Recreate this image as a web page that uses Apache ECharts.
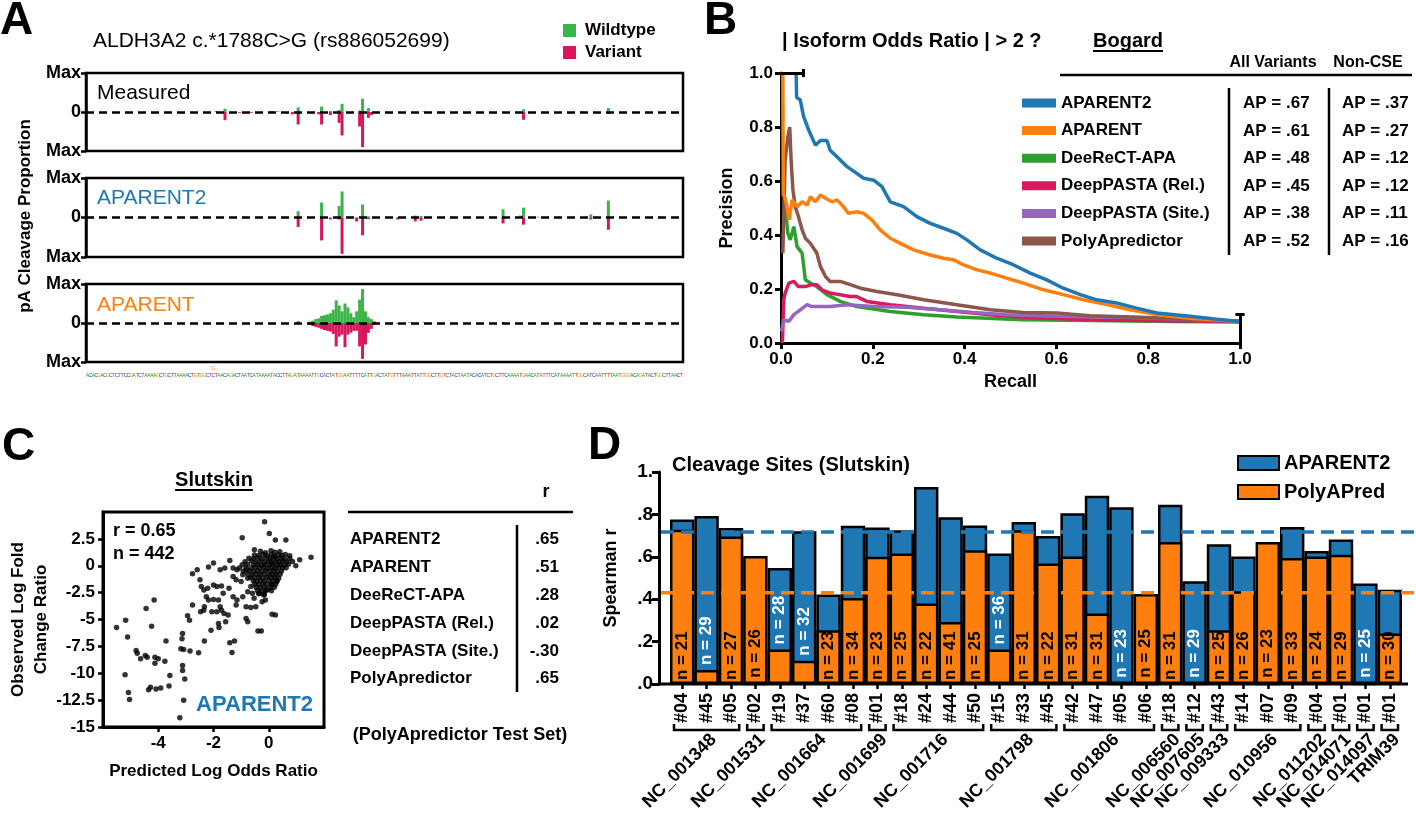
<!DOCTYPE html>
<html><head><meta charset="utf-8">
<script src="https://cdn.jsdelivr.net/npm/echarts@6/dist/echarts.min.js"></script>
<style>html,body{margin:0;padding:0;background:#fff;}#chart{width:1416px;height:813px;}</style>
</head><body><div id="chart"></div>
<script>
const FF = '"Liberation Sans", Arial, Helvetica, sans-serif';

// ---------------- Panel A data ----------------
const sequence = "ACACGACGCTCTTCCGATCTAAAAGCTGCTTAAAACTGTGGCTCTAACAGACTAATCATAAAATACCTTAGATAAAATTGCACTATGGAATTTTCATTGACTATGTTTAAATTATTGGCTTGTCTACTAATACACATCTGCTTCAAAATGAACATATTTCATAAAATTGGCATCAATTTTAATGGGACAGATACTGGCTTAACT";
const variantIndex = 43;
const variantAllele = 'G';
const aTrackNames = ['Measured', 'APARENT2', 'APARENT'];
const measuredWildtype = [[44,0.03],[47,0.085],[63,0.03],[65,0.02],[72,0.12],[80,0.14],[83,0.03],[86,0.05],[87,0.21],[93,0.04],[94,0.34],[96,0.1],[115,0.02],[149,0.07],[169,0.02],[178,0.1]];
const measuredVariant = [[47,0.21],[52,0.02],[56,0.02],[68,0.03],[70,0.06],[72,0.32],[79,0.06],[80,0.32],[83,0.08],[86,0.28],[87,0.6],[93,0.37],[94,0.9],[96,0.15],[97,0.08],[149,0.2],[166,0.02],[178,0.05]];
const aparent2Wildtype = [[72,0.16],[80,0.38],[86,0.29],[87,0.66],[94,0.33],[96,0.03],[112,0.05],[114,0.04],[142,0.21],[148,0.05],[149,0.25],[154,0.02],[161,0.02],[172,0.08],[178,0.43]];
const aparent2Variant = [[68,0.02],[72,0.24],[80,0.58],[83,0.05],[86,0.05],[87,0.92],[92,0.1],[94,0.45],[96,0.04],[106,0.05],[112,0.1],[114,0.08],[142,0.15],[149,0.18],[172,0.05],[178,0.31]];
const aparentWildtype = [[72,0.05],[76,0.04],[77,0.06],[78,0.1],[79,0.12],[80,0.18],[81,0.2],[82,0.22],[83,0.25],[84,0.34],[85,0.58],[86,0.45],[87,0.3],[88,0.5],[89,0.4],[90,0.25],[91,0.15],[92,0.3],[93,0.6],[94,0.87],[95,0.3],[96,0.15],[97,0.1],[98,0.05],[104,0.02],[110,0.02],[115,0.02],[142,0.03]];
const aparentVariant = [[72,0.03],[76,0.05],[77,0.08],[78,0.1],[79,0.12],[80,0.15],[81,0.18],[82,0.2],[83,0.22],[84,0.28],[85,0.6],[86,0.35],[87,0.3],[88,0.62],[89,0.3],[90,0.25],[91,0.2],[92,0.2],[93,0.6],[94,0.92],[95,0.55],[96,0.25],[97,0.15],[98,0.05],[106,0.02],[112,0.03]];

// ---------------- Panel B data ----------------
const prModels = ['APARENT2','APARENT','DeeReCT-APA','DeepPASTA (Rel.)','DeepPASTA (Site.)','PolyApredictor'];
const prAparent2 = [[0.033,1.0],[0.034,0.91],[0.042,0.90],[0.049,0.84],[0.06,0.79],[0.075,0.733],[0.086,0.75],[0.1,0.75],[0.107,0.714],[0.122,0.69],[0.144,0.653],[0.165,0.628],[0.18,0.61],[0.202,0.603],[0.22,0.579],[0.238,0.523],[0.267,0.505],[0.296,0.468],[0.325,0.443],[0.354,0.425],[0.383,0.406],[0.405,0.382],[0.434,0.345],[0.47,0.314],[0.507,0.289],[0.543,0.259],[0.579,0.234],[0.615,0.203],[0.652,0.179],[0.688,0.16],[0.731,0.148],[0.775,0.129],[0.819,0.111],[0.891,0.099],[0.95,0.088],[1.0,0.08]];
const prAparent = [[0.004,1.0],[0.005,0.55],[0.008,0.542],[0.013,0.505],[0.018,0.456],[0.024,0.53],[0.035,0.505],[0.046,0.523],[0.057,0.511],[0.064,0.542],[0.075,0.523],[0.086,0.548],[0.097,0.536],[0.111,0.523],[0.122,0.53],[0.136,0.505],[0.147,0.48],[0.165,0.486],[0.18,0.48],[0.198,0.456],[0.216,0.419],[0.238,0.388],[0.26,0.369],[0.289,0.345],[0.325,0.326],[0.354,0.314],[0.376,0.308],[0.398,0.289],[0.427,0.271],[0.456,0.259],[0.492,0.24],[0.528,0.222],[0.572,0.197],[0.615,0.179],[0.659,0.16],[0.71,0.142],[0.76,0.123],[0.819,0.105],[0.891,0.092],[1.0,0.08]];
const prDeeReCT = [[0.006,0.456],[0.009,0.505],[0.015,0.406],[0.02,0.382],[0.028,0.431],[0.035,0.357],[0.046,0.333],[0.053,0.234],[0.064,0.222],[0.078,0.209],[0.1,0.179],[0.129,0.154],[0.165,0.135],[0.238,0.117],[0.311,0.105],[0.383,0.096],[0.528,0.086],[0.673,0.083],[0.85,0.08],[1.0,0.078]];
const prDeepPastaRel = [[0.003,0.0],[0.006,0.16],[0.009,0.185],[0.017,0.222],[0.028,0.228],[0.038,0.209],[0.053,0.209],[0.067,0.216],[0.078,0.216],[0.089,0.197],[0.107,0.185],[0.129,0.179],[0.151,0.172],[0.165,0.172],[0.187,0.154],[0.238,0.142],[0.311,0.129],[0.383,0.117],[0.456,0.105],[0.528,0.095],[0.673,0.086],[0.85,0.082],[1.0,0.08]];
const prDeepPastaSite = [[0.001,0.043],[0.006,0.086],[0.017,0.08],[0.028,0.105],[0.042,0.123],[0.057,0.142],[0.067,0.135],[0.078,0.135],[0.107,0.135],[0.144,0.142],[0.202,0.135],[0.274,0.132],[0.347,0.123],[0.419,0.113],[0.492,0.105],[0.601,0.099],[0.746,0.095],[0.88,0.088],[1.0,0.08]];
const prPolyApredictor = [[0.004,0.333],[0.009,0.677],[0.015,0.764],[0.019,0.80],[0.022,0.677],[0.026,0.567],[0.031,0.505],[0.038,0.468],[0.046,0.419],[0.053,0.388],[0.064,0.369],[0.071,0.351],[0.078,0.333],[0.086,0.283],[0.097,0.246],[0.107,0.228],[0.129,0.228],[0.151,0.216],[0.173,0.203],[0.209,0.191],[0.253,0.179],[0.311,0.16],[0.383,0.142],[0.456,0.123],[0.528,0.113],[0.601,0.111],[0.673,0.101],[0.782,0.095],[0.9,0.088],[1.0,0.08]];
const prCaps = [[[0,1],[0.049,1]],[[0.049,0.985],[0.049,1.015]],[[1,0],[1,0.106]],[[0.99,0.106],[1.01,0.106]]];
const apAllVariants = ['.67','.61','.48','.45','.38','.52'];
const apNonCSE = ['.37','.27','.12','.12','.11','.16'];

// ---------------- Panel C data ----------------
const slutskinR = '0.65';
const slutskinN = 442;
const slutskinOutliers = [[-0.15,4.1],[-0.96,2.6],[0.02,3.0],[0.24,2.4],[0.62,2.4],[1.53,0.8],[1.12,0.56],[0.98,0.0],[0.76,0.94],[-0.52,1.5],[-1.41,0.5],[-2.18,-0.12],[-2.0,0.25],[-2.59,-0.38],[-2.76,-0.75],[-2.49,-1.31],[-2.76,-3.66],[-2.94,-4.66],[-2.87,-5.06],[-3.12,-6.31],[-3.14,-6.78],[-3.18,-7.72],[-3.08,-7.78],[-2.85,-7.94],[-3.12,-9.28],[-3.12,-9.75],[-3.04,-10.53],[-3.08,-12.5],[-3.22,-14.13],[-5.51,-5.75],[-5.18,-5.06],[-5.11,-6.63],[-5.2,-10.13],[-5.08,-11.78],[-5.04,-12.44],[-4.8,-7.88],[-4.76,-8.13],[-4.64,-8.66],[-4.47,-8.34],[-4.4,-8.5],[-4.44,-3.97],[-4.15,-3.19],[-4.24,-5.63],[-4.12,-8.5],[-4.12,-9.06],[-4.0,-8.66],[-3.76,-8.88],[-3.72,-7.0],[-3.58,-10.22],[-3.61,-11.19],[-4.35,-11.53],[-4.28,-11.31],[-4.08,-11.47],[-3.91,-11.38],[-2.33,-7.0],[-2.54,-8.09],[-2.09,-6.0],[-1.8,-5.75],[-1.82,-5.38],[-1.56,-5.22],[-1.41,-7.16],[-1.33,-8.06],[-1.24,-7.0],[-0.76,-5.22],[-0.82,-4.91],[-0.39,-6.06],[-0.27,-6.06],[0.12,-4.5],[0.24,-4.59],[-2.35,-4.13],[-2.47,-4.28],[-2.33,-3.81],[-2.06,-4.28],[-1.88,-4.28],[-1.71,-4.13],[-1.62,-4.44],[-1.47,-4.59],[-1.76,-3.81],[-2.26,-2.88],[-2.18,-3.19],[-2.0,-3.13],[-1.82,-3.19],[-2.44,-1.94],[-2.35,-2.25],[-2.21,-2.09],[-2.0,-1.78],[-1.88,-1.94],[-1.71,-1.88],[-1.44,-2.09],[-1.65,-2.56],[-1.29,-2.88],[-1.18,-3.66],[-1.15,-3.19],[-0.94,-2.88],[-0.82,-3.81],[-0.65,-3.88],[-0.47,-3.81],[-0.24,-3.34],[-0.12,-3.19],[-0.53,-3.03],[-0.76,-2.41],[-0.65,-1.94],[-0.59,-2.56],[-0.35,-2.56],[-0.18,-2.72],[-0.06,-2.25],[0.12,-1.78],[0.29,-1.47],[-1.59,-0.22],[-1.76,-0.38],[-1.29,-0.22],[-1.15,-0.38],[-1.29,-1.0],[-1.18,-1.31],[-1.0,-1.47],[-0.94,-0.84],[-0.82,-0.38],[-0.76,-1.16]];
const slutskinCluster = [[-0.3,1.35],[-0.12,1.2],[0.08,1.4],[0.22,1.25],[0.4,1.3],[-0.52,1.0],[-0.36,0.95],[-0.2,1.05],[-0.04,0.92],[0.1,1.02],[0.21,0.88],[0.34,1.0],[0.48,0.95],[0.6,1.05],[-0.72,0.7],[-0.56,0.66],[-0.41,0.75],[-0.26,0.62],[-0.09,0.72],[0.04,0.6],[0.16,0.74],[0.29,0.65],[0.44,0.7],[0.58,0.6],[0.76,0.68],[-0.86,0.38],[-0.62,0.44],[-0.47,0.33],[-0.31,0.42],[-0.16,0.35],[0.0,0.45],[0.12,0.3],[0.26,0.4],[0.37,0.34],[0.51,0.44],[0.66,0.36],[0.86,0.4],[-0.96,0.1],[-0.77,0.14],[-0.56,0.06],[-0.41,0.15],[-0.27,0.05],[-0.12,0.12],[0.03,0.08],[0.15,0.16],[0.28,0.04],[0.43,0.12],[0.56,0.07],[0.71,0.14],[-1.06,-0.2],[-0.82,-0.16],[-0.63,-0.24],[-0.49,-0.14],[-0.34,-0.22],[-0.19,-0.12],[-0.05,-0.26],[0.09,-0.17],[0.23,-0.23],[0.36,-0.13],[0.5,-0.21],[0.63,-0.18],[-0.92,-0.5],[-0.71,-0.46],[-0.56,-0.55],[-0.41,-0.47],[-0.26,-0.53],[-0.11,-0.44],[0.05,-0.52],[0.18,-0.46],[0.31,-0.56],[0.46,-0.48],[-0.76,-0.8],[-0.61,-0.86],[-0.46,-0.77],[-0.31,-0.84],[-0.16,-0.76],[0.0,-0.85],[0.12,-0.78],[0.26,-0.83],[0.41,-0.79],[-0.66,-1.1],[-0.51,-1.15],[-0.36,-1.06],[-0.21,-1.14],[-0.06,-1.08],[0.1,-1.12],[0.22,-1.05],[0.36,-1.16],[-0.56,-1.4],[-0.43,-1.45],[-0.31,-1.37],[-0.16,-1.44],[0.0,-1.38],[0.15,-1.43],[0.3,-1.4],[-0.51,-1.7],[-0.36,-1.75],[-0.21,-1.68],[-0.06,-1.74],[0.1,-1.69],[0.25,-1.72],[-0.46,-2.0],[-0.31,-2.05],[-0.16,-1.98],[0.05,-2.04],[0.2,-1.99],[-0.41,-2.3],[-0.26,-2.35],[-0.11,-2.28],[0.1,-2.32],[-0.36,-2.6],[-0.16,-2.65]];
const cModels = ['APARENT2','APARENT','DeeReCT-APA','DeepPASTA (Rel.)','DeepPASTA (Site.)','PolyApredictor'];
const cR = ['.65','.51','.28','.02','-.30','.65'];

// ---------------- Panel D data ----------------
const dSites = ['#04','#45','#05','#02','#19','#37','#60','#08','#01','#18','#24','#44','#50','#15','#33','#45','#42','#47','#05','#06','#18','#12','#43','#14','#07','#09','#04','#01','#01','#01'];
const dAparent2 = [0.776,0.792,0.736,0,0.547,0.72,0.422,0.747,0.738,0.725,0.929,0.787,0.748,0.615,0.764,0.698,0.806,0.888,0.834,0,0.845,0.485,0.659,0.602,0,0.74,0.627,0.682,0.474,0.445];
const dPolyAPred = [0.728,0.066,0.696,0.604,0.163,0.11,0.254,0.406,0.6,0.615,0.38,0.293,0.631,0.163,0.725,0.568,0.602,0.333,0,0.425,0.67,0,0.254,0.438,0.67,0.594,0.602,0.61,0,0.238];
const dN = [21,29,27,26,28,32,23,34,23,25,22,41,25,36,31,22,31,31,23,25,31,29,25,26,23,33,24,29,25,30];
const dGroups = [['NC_001348',0,2],['NC_001531',3,3],['NC_001664',4,7],['NC_001699',8,8],['NC_001716',9,12],['NC_001798',13,15],['NC_001806',16,19],['NC_006560',20,20],['NC_007605',21,21],['NC_009333',22,22],['NC_010956',23,25],['NC_011202',26,26],['NC_014071',27,27],['NC_014097',28,28],['TRIM39',29,29]];
const dMeanAparent2 = 0.717;
const dMeanPolyAPred = 0.431;

// ---------------- styles ----------------
const WT_COLOR = '#3bb54a', VAR_COLOR = '#d6175c';
const BLUE = '#1f77b4', ORANGE = '#ff7f0e';
const prColors = ['#1f77b4','#ff7f0e','#2ca02c','#d81b60','#9467bd','#8c564b'];
const D_AXIS_OFFSET = 11;

const mctx = document.createElement('canvas').getContext('2d');
function textW(t, font){ mctx.font = font; return mctx.measureText(t).width; }
function fnt(size, weight){ return (weight||'bold') + ' ' + size + 'px ' + FF; }
function T(x, y, text, o){ o = o||{}; return {type:'text', x:x, y:y, rotation:o.rot||0, silent:true, z:50,
  style:{text:text, fill:o.color||'#000', font:fnt(o.size||17, o.weight), align:o.align||'left', verticalAlign:o.va||'middle'}}; }
function L(x1,y1,x2,y2,w){ return {type:'line', silent:true, z:50, shape:{x1:x1,y1:y1,x2:x2,y2:y2}, style:{stroke:'#000', lineWidth:w||2.5}}; }
function R(x,y,w,h,c){ return {type:'rect', silent:true, z:50, shape:{x:x,y:y,width:w,height:h}, style:{fill:c}}; }

const seqIdx = sequence.split('').map((c,i)=>String(i));
const axisTxt = {fontFamily:FF, fontWeight:'bold', color:'#000'};

// ---------------- grids ----------------
const grids = [
  {left:86, top:73, width:597, height:78, show:true, borderColor:'#000', borderWidth:2.5},
  {left:86, top:178, width:597, height:79, show:true, borderColor:'#000', borderWidth:2.5},
  {left:86, top:284, width:597, height:78, show:true, borderColor:'#000', borderWidth:2.5},
  {left:781, top:73, width:459, height:270},
  {left:103, top:512, width:221, height:215, show:true, borderColor:'#000', borderWidth:3},
  {left:670, top:472, width:732, height:212}
];

const hiddenCat = g => ({gridIndex:g, type:'category', data:seqIdx, boundaryGap:true, axisLine:{show:false}, axisTick:{show:false}, axisLabel:{show:false}});
const xAxes = [
  hiddenCat(0), hiddenCat(1),
  {gridIndex:2, type:'category', data:seqIdx, boundaryGap:true, axisLine:{show:false}, axisTick:{show:false},
   axisLabel:{interval:0, margin:11, fontSize:5, fontFamily:FF, formatter:v=>{const c=sequence[+v]; return '{'+c+'|'+c+'}';},
     rich:{A:{color:'#2ca02c',fontSize:5,fontFamily:FF}, C:{color:'#2040d0',fontSize:5,fontFamily:FF}, G:{color:'#f0a000',fontSize:5,fontFamily:FF}, T:{color:'#e02020',fontSize:5,fontFamily:FF}}}},
  {gridIndex:2, type:'category', data:seqIdx, boundaryGap:true, position:'bottom', axisLine:{show:false}, axisTick:{show:false},
   axisLabel:{interval:0, margin:3, fontSize:6, fontFamily:FF, color:'#f0a000', formatter:v=> (+v===variantIndex ? variantAllele : '')}},
  {gridIndex:3, type:'value', min:0, max:1, interval:0.2, name:'Recall', nameLocation:'middle', nameGap:30,
   nameTextStyle:Object.assign({fontSize:18}, axisTxt),
   axisLine:{show:true, onZero:false, lineStyle:{color:'#000', width:3}}, axisTick:{show:true, length:6, lineStyle:{color:'#000', width:3}},
   axisLabel:Object.assign({fontSize:17, margin:8, formatter:v=>v.toFixed(1)}, axisTxt), splitLine:{show:false}},
  {gridIndex:4, type:'value', min:-6, max:2, interval:2,
   name:'Predicted Log Odds Ratio', nameLocation:'middle', nameGap:36, nameTextStyle:Object.assign({fontSize:17}, axisTxt),
   axisLine:{show:true, onZero:false, lineStyle:{color:'#000', width:3}}, axisTick:{show:true, length:5, lineStyle:{color:'#000', width:2.5}},
   axisLabel:Object.assign({fontSize:17, margin:8, showMinLabel:false, showMaxLabel:false}, axisTxt), splitLine:{show:false}},
  {gridIndex:5, type:'category', data:dSites.map((s,i)=>String(i)), boundaryGap:true, axisLine:{show:false},
   axisTick:{show:true, alignWithLabel:true, length:5, lineStyle:{color:'#000', width:2.5}},
   axisLabel:Object.assign({interval:0, rotate:90, margin:9, fontSize:18, formatter:(v)=>dSites[+v]}, axisTxt)}
];

const aY = g => ({gridIndex:g, type:'value', min:-1, max:1, interval:1,
  axisLine:{show:true, onZero:false, lineStyle:{color:'#000', width:2.5}}, axisTick:{show:true, length:5, lineStyle:{color:'#000', width:2.5}},
  splitLine:{show:false}, axisLabel:Object.assign({fontSize:18, margin:5, formatter:v=> v===0 ? '0' : 'Max'}, axisTxt)});
const yAxes = [aY(0), aY(1), aY(2),
  {gridIndex:3, type:'value', min:0, max:1, interval:0.2, name:'Precision', nameLocation:'middle', nameGap:45,
   nameTextStyle:Object.assign({fontSize:18}, axisTxt),
   axisLine:{show:true, onZero:false, lineStyle:{color:'#000', width:3}}, axisTick:{show:true, length:6, lineStyle:{color:'#000', width:3}},
   axisLabel:Object.assign({fontSize:17, margin:8, formatter:v=>v.toFixed(1)}, axisTxt), splitLine:{show:false}},
  {gridIndex:4, type:'value', min:-15, max:5, interval:2.5, name:'Observed Log Fold\nChange Ratio', nameLocation:'middle', nameGap:36,
   nameTextStyle:Object.assign({fontSize:17, lineHeight:23}, axisTxt),
   axisLine:{show:true, onZero:false, lineStyle:{color:'#000', width:3}}, axisTick:{show:true, length:5, lineStyle:{color:'#000', width:2.5}},
   axisLabel:Object.assign({fontSize:17, margin:8, showMaxLabel:false, formatter:v=>String(v)}, axisTxt), splitLine:{show:false}},
  {gridIndex:5, type:'value', min:0, max:1, interval:0.2, offset:D_AXIS_OFFSET, name:'Spearman r', nameLocation:'middle', nameGap:39,
   nameTextStyle:Object.assign({fontSize:18}, axisTxt),
   axisLine:{show:true, onZero:false, lineStyle:{color:'#000', width:3}}, axisTick:{show:true, length:7, lineStyle:{color:'#000', width:3}},
   axisLabel:Object.assign({fontSize:19, margin:6, formatter:v=> v>=1 ? '1.' : '.'+Math.round(v*10)}, axisTxt), splitLine:{show:false}}
];

// ---------------- series ----------------
const series = [];
const aTracks = [[measuredWildtype, measuredVariant],[aparent2Wildtype, aparent2Variant],[aparentWildtype, aparentVariant]];
aTracks.forEach((tr, g) => {
  series.push({type:'bar', name:'Wildtype', xAxisIndex:g, yAxisIndex:g, data:tr[0], barWidth:3, barGap:'-100%', itemStyle:{color:WT_COLOR}, silent:true});
  series.push({type:'bar', name:'Variant', xAxisIndex:g, yAxisIndex:g, data:tr[1].map(p=>[p[0], -p[1]]), barWidth:3, barGap:'-100%', itemStyle:{color:VAR_COLOR}, silent:true});
  series.push({type:'line', xAxisIndex:g, yAxisIndex:g, data:[], z:6, silent:true,
    markLine:{silent:true, symbol:'none', label:{show:false}, animation:false, lineStyle:{color:'#000', type:[8,5], width:2.5}, data:[{yAxis:0}]}});
});

const prData = [prAparent2, prAparent, prDeeReCT, prDeepPastaRel, prDeepPastaSite, prPolyApredictor];
const drawOrder = [2,3,4,5,1,0];
drawOrder.forEach((k, j) => {
  series.push({type:'line', name:prModels[k], xAxisIndex:4, yAxisIndex:3, data:prData[k], showSymbol:false, symbol:'none',
    lineStyle:{color:prColors[k], width:3.5}, itemStyle:{color:prColors[k]}, z:3+j, silent:true});
});
series.push({type:'lines', coordinateSystem:'cartesian2d', xAxisIndex:4, yAxisIndex:3, clip:false, silent:true, z:12,
  lineStyle:{color:'#000', width:3, opacity:1}, data:prCaps.map(c=>({coords:c}))});

series.push({type:'scatter', xAxisIndex:5, yAxisIndex:4, symbolSize:5.5, itemStyle:{color:'#000'}, silent:true,
  data:slutskinOutliers.concat(slutskinCluster)});

// Panel D bars: taller value drawn behind, shorter in front
function frontItem(v, i, isA2){
  const inside = v >= 0.22;
  const col = inside ? (isA2 ? '#fff' : '#000') : (isA2 ? '#000' : '#fff');
  return {value:v, label:{show:true, formatter:'n = '+dN[i], rotate:90, align:'left', verticalAlign:'middle',
    position: inside ? 'insideBottom' : 'top', distance: inside ? 4 : 5, color:col, fontFamily:FF, fontWeight:'bold', fontSize:17}};
}
const dBackA2 = dAparent2.map((a,i)=> a>=dPolyAPred[i] ? a : '-');
const dBackPP = dPolyAPred.map((p,i)=> p>dAparent2[i] ? p : '-');
const dFrontA2 = dAparent2.map((a,i)=> a<dPolyAPred[i] ? frontItem(a,i,true) : '-');
const dFrontPP = dPolyAPred.map((p,i)=> p<=dAparent2[i] ? frontItem(p,i,false) : '-');
const barBase = {type:'bar', xAxisIndex:6, yAxisIndex:5, barWidth:'100%', barGap:'-100%', silent:true};
series.push(Object.assign({name:'APARENT2', data:dBackA2, itemStyle:{color:BLUE, borderColor:'#000', borderWidth:2.5}, z:2}, barBase));
series.push(Object.assign({name:'PolyAPred', data:dBackPP, itemStyle:{color:ORANGE, borderColor:'#000', borderWidth:2.5}, z:2}, barBase));
series.push(Object.assign({name:'APARENT2', data:dFrontA2, itemStyle:{color:BLUE, borderColor:'#000', borderWidth:2.5}, z:3}, barBase));
series.push(Object.assign({name:'PolyAPred', data:dFrontPP, itemStyle:{color:ORANGE, borderColor:'#000', borderWidth:2.5}, z:3}, barBase));

series.push({type:'custom', xAxisIndex:6, yAxisIndex:5, clip:false, silent:true, z:10,
  data:dGroups.map(g=>[g[1], g[2], 0]), encode:{x:[0,1], y:2},
  renderItem:function(params, api){
    const s = api.value(0), e = api.value(1);
    const bw = api.size([1,0])[0];
    const p0 = api.coord([s,0]), p1 = api.coord([e,0]);
    const y0 = p0[1];
    const x0 = p0[0]-bw/2+4, x1 = p1[0]+bw/2-4;
    const yb = y0 + 46;
    const cx = (p0[0]+p1[0])/2;
    const children = [
      {type:'polyline', shape:{points:[[x0,yb-6],[x0,yb],[x1,yb],[x1,yb-6]]}, style:{stroke:'#000', lineWidth:2.5, fill:null}},
      {type:'text', x:cx+7, y:yb+7, rotation:Math.PI/4, style:{text:dGroups[params.dataIndex][0], font:fnt(18), fill:'#000', align:'right', verticalAlign:'middle'}}
    ];
    if (params.dataIndex === 0) {
      const first = api.coord([0,0]), last = api.coord([dSites.length-1,0]);
      const axisX = first[0]-bw/2-D_AXIS_OFFSET;
      const rightX = last[0]+bw/2;
      children.push({type:'line', shape:{x1:axisX-1, y1:y0, x2:rightX+6, y2:y0}, style:{stroke:'#000', lineWidth:3}});
      const ya = api.coord([0,dMeanAparent2])[1], yp = api.coord([0,dMeanPolyAPred])[1];
      children.push({type:'line', shape:{x1:axisX+2, y1:ya, x2:rightX+13, y2:ya}, style:{stroke:BLUE, lineWidth:3.5, lineDash:[13,7]}});
      children.push({type:'line', shape:{x1:axisX+2, y1:yp, x2:rightX+13, y2:yp}, style:{stroke:ORANGE, lineWidth:3.5, lineDash:[13,7]}});
    }
    return {type:'group', children:children};
  }});

// ---------------- text / table graphics ----------------
const g = [];
g.push(T(0, 21, 'A', {size:46}), T(704, 21, 'B', {size:46}), T(2, 447, 'C', {size:46}), T(588, 446, 'D', {size:46}));
// Panel A
g.push(T(93, 41, 'ALDH3A2 c.*1788C>G (rs886052699)', {size:21, weight:'normal'}));
g.push(R(563, 24, 13, 13, WT_COLOR), T(585, 30, 'Wildtype', {size:17}));
g.push(R(563, 46, 13, 13, VAR_COLOR), T(585, 52, 'Variant', {size:17}));
const aLabelY = [93, 198, 305], aLabelC = ['#000', BLUE, ORANGE];
aTrackNames.forEach((n,i)=> g.push(T(97, aLabelY[i], n, {size:21, weight:'normal', color:aLabelC[i]})));
g.push(T(25, 216, 'pA Cleavage Proportion', {size:17, rot:Math.PI/2, align:'center'}));
// Panel B header + table
g.push(T(782, 41, '| Isoform Odds Ratio | > 2 ?', {size:20}));
g.push(T(1093, 41, 'Bogard', {size:20}));
g.push(L(1093, 51, 1093+textW('Bogard', fnt(20)), 51, 2));
g.push(T(1273, 63, 'All Variants', {size:16, align:'center'}), T(1368, 63, 'Non-CSE', {size:16, align:'center'}));
g.push(L(1060, 75, 1412, 75, 2.5));
g.push(L(1229, 88, 1229, 255, 2.5), L(1329, 88, 1329, 255, 2.5));
const bRowY = [103, 131, 158, 186, 213, 241];
apAllVariants.forEach((v,i)=> g.push(T(1243, bRowY[i], 'AP = '+v, {size:17})));
apNonCSE.forEach((v,i)=> g.push(T(1342, bRowY[i], 'AP = '+v, {size:17})));
// Panel C
g.push(T(214, 480, 'Slutskin', {size:20, align:'center'}));
const sw = textW('Slutskin', fnt(20));
g.push(L(214-sw/2, 490, 214+sw/2, 490, 2));
g.push(T(113, 531, 'r = '+slutskinR, {size:18}), T(113, 554, 'n = '+slutskinN, {size:18}));
g.push(T(313, 705, 'APARENT2', {size:22, color:BLUE, align:'right'}));
g.push(T(546, 492, 'r', {size:18, align:'center'}));
g.push(L(348, 512, 573, 512, 2.5));
g.push(L(517, 525, 517, 692, 2.5));
const cRowY = [539, 567, 595, 623, 651, 678];
cModels.forEach((n,i)=> g.push(T(350, cRowY[i], n, {size:17})));
cR.forEach((v,i)=> g.push(T(559, cRowY[i], v, {size:17, align:'right'})));
g.push(T(460, 735, '(PolyApredictor Test Set)', {size:18, align:'center'}));
// Panel D title
g.push(T(672, 465, 'Cleavage Sites (Slutskin)', {size:20}));

const chart = echarts.init(document.getElementById('chart'), null, {renderer:'canvas'});
chart.setOption({
  animation:false,
  backgroundColor:'#fff',
  textStyle:{fontFamily:FF},
  grid:grids, xAxis:xAxes, yAxis:yAxes, series:series,
  legend:[
    {data:prModels.map((n,i)=>({name:n, icon:'rect', itemStyle:{color:prColors[i], borderWidth:0}})), orient:'vertical', left:1022, top:93,
     itemWidth:34, itemHeight:9, itemGap:7.6, padding:0, selectedMode:false,
     textStyle:{fontFamily:FF, fontWeight:'bold', fontSize:17, color:'#000', lineHeight:20}},
    {data:[{name:'APARENT2', icon:'rect', itemStyle:{color:BLUE, borderColor:'#000', borderWidth:2}},
           {name:'PolyAPred', icon:'rect', itemStyle:{color:ORANGE, borderColor:'#000', borderWidth:2}}],
     orient:'vertical', left:1237, top:452, itemWidth:41, itemHeight:14, itemGap:7, padding:0, selectedMode:false,
     textStyle:{fontFamily:FF, fontWeight:'bold', fontSize:20, color:'#000', lineHeight:22}}
  ],
  graphic:g
});
</script></body></html>
